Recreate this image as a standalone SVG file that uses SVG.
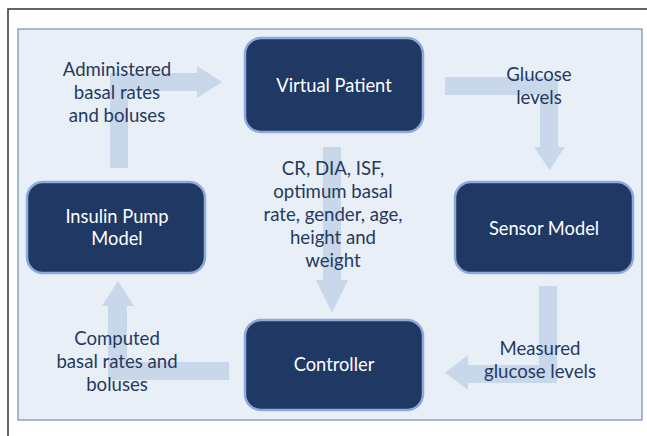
<svg xmlns="http://www.w3.org/2000/svg" width="647" height="436" viewBox="0 0 647 436">
<defs>
<style>
.node rect{fill:#1f3864;stroke:#8eaadb;stroke-width:2.5}
.node text{fill:#ffffff;font-family:Lato,"Open Sans",sans-serif;font-size:18.3px;text-anchor:middle}
.lbl{fill:#253a5e;font-family:Lato,"Open Sans",sans-serif;font-size:18.6px;text-anchor:middle}
.arr{fill:#c9d7eb}
</style>
</defs>
<rect x="0" y="0" width="647" height="436" fill="#ffffff"/>
<path d="M8,436 V9 H647" fill="none" stroke="#333333" stroke-width="1.5"/>
<rect x="18" y="29" width="624" height="391" fill="#e9eff7" stroke="#5b79a8" stroke-width="1"/>
<g id="connectors">
<path class="arr" d="M110,168 V73 H197 V66 L222,82 L197,98 V91 H128 V168 Z"/>
<path class="arr" d="M445,77 H558 V147 H565 L549.5,170 L534,147 H540 V95 H445 Z"/>
<path class="arr" d="M539,286 H557 V383 H468 V390 L445,372.5 L468,355 V365 H539 Z"/>
<path class="arr" d="M229,362 V380 H108 V306 H102 L118,281 L134,306 H127 V362 Z"/>
<path class="arr" d="M323,147 H341 V280 H348 L332,313 L316,280 H323 Z"/>
</g>
<g id="virtual-patient" class="node">
<rect x="245" y="38" width="178" height="94" rx="16"/>
<text x="334" y="92">Virtual Patient</text>
</g>
<g id="insulin-pump-model" class="node">
<rect x="27" y="182" width="178" height="91" rx="16"/>
<text x="117" y="223">Insulin Pump</text>
<text x="117" y="245">Model</text>
</g>
<g id="sensor-model" class="node">
<rect x="455" y="182" width="178" height="91" rx="16"/>
<text x="544" y="235">Sensor Model</text>
</g>
<g id="controller" class="node">
<rect x="245" y="320" width="178" height="90" rx="16"/>
<text x="334" y="371">Controller</text>
</g>
<g id="labels">
<text class="lbl" x="117" y="76">Administered</text>
<text class="lbl" x="117" y="99">basal rates</text>
<text class="lbl" x="117" y="122">and boluses</text>
<text class="lbl" x="539" y="81">Glucose</text>
<text class="lbl" x="539" y="104">levels</text>
<text class="lbl" x="333" y="175">CR, DIA, ISF,</text>
<text class="lbl" x="333" y="198">optimum basal</text>
<text class="lbl" x="333" y="221">rate, gender, age,</text>
<text class="lbl" x="333" y="244">height and</text>
<text class="lbl" x="333" y="267">weight</text>
<text class="lbl" x="117" y="345">Computed</text>
<text class="lbl" x="117" y="368">basal rates and</text>
<text class="lbl" x="117" y="391">boluses</text>
<text class="lbl" x="540" y="355">Measured</text>
<text class="lbl" x="540" y="378">glucose levels</text>
</g>
</svg>
